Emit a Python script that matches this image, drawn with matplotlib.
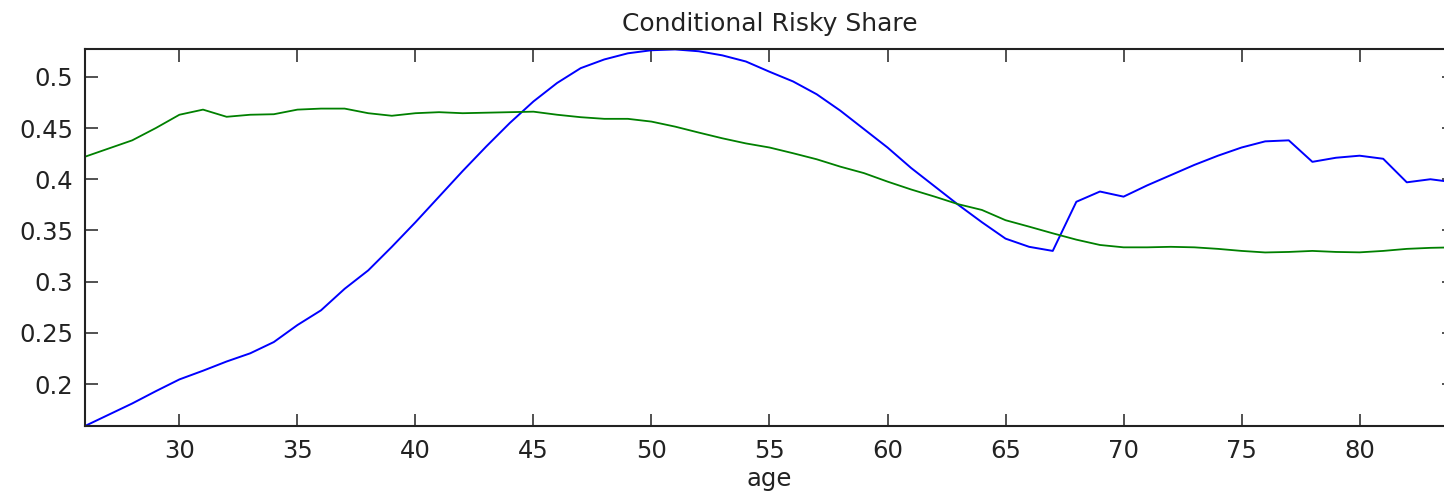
import matplotlib
matplotlib.use("Agg")
from matplotlib import pyplot as plt

# edades (eje x)
edades = list(range(26, 85))

# participacion riesgosa condicional - serie azul
azul = [0.159, 0.170, 0.181, 0.193, 0.2045, 0.213, 0.222, 0.230, 0.241, 0.2576,
        0.272, 0.293, 0.311, 0.334, 0.358, 0.383, 0.408, 0.432, 0.455, 0.476,
        0.494, 0.5085, 0.517, 0.523, 0.526, 0.5268, 0.525, 0.521, 0.515, 0.505,
        0.4955, 0.483, 0.467, 0.449, 0.431, 0.411, 0.393, 0.375, 0.358, 0.342,
        0.334, 0.330, 0.378, 0.388, 0.383, 0.394, 0.404, 0.414, 0.423, 0.431,
        0.437, 0.438, 0.417, 0.421, 0.423, 0.420, 0.397, 0.400, 0.397]

# serie verde
verde = [0.422, 0.430, 0.438, 0.450, 0.463, 0.468, 0.461, 0.463, 0.4635, 0.468,
         0.469, 0.469, 0.4645, 0.462, 0.4645, 0.4655, 0.4645, 0.465, 0.4655, 0.466,
         0.463, 0.4606, 0.459, 0.459, 0.4563, 0.4514, 0.4456, 0.440, 0.435, 0.431,
         0.4254, 0.4195, 0.4123, 0.406, 0.3977, 0.390, 0.383, 0.3756, 0.370, 0.360,
         0.3537, 0.3472, 0.341, 0.3358, 0.3335, 0.3335, 0.334, 0.3335, 0.332, 0.330,
         0.3285, 0.329, 0.330, 0.329, 0.3286, 0.330, 0.332, 0.333, 0.3335]

plt.rcParams["font.family"] = ["DejaVu Sans"]

fig = plt.figure(figsize=(14.44, 4.94), dpi=100)
ax = fig.add_axes([85/1444, 1 - 426/494, 1369/1444, (426 - 48.7)/494])

ax.plot(edades, azul, color="#0000ff", linewidth=1.4)
ax.plot(edades, verde, color="#008000", linewidth=1.3)

ax.set_xlim(26, 84)
ax.set_ylim(0.159, 0.5275)
ax.set_xticks([30, 35, 40, 45, 50, 55, 60, 65, 70, 75, 80])
ax.set_yticks([0.2, 0.25, 0.3, 0.35, 0.4, 0.45, 0.5])
ax.set_yticklabels(["0.2", "0.25", "0.3", "0.35", "0.4", "0.45", "0.5"])

ax.tick_params(direction="in", length=9, width=1.1, top=True, right=True,
               labelsize=17.5, colors="#222222")
ax.tick_params(axis="x", pad=9)
ax.tick_params(axis="y", pad=8.5)
for s in ax.spines.values():
    s.set_linewidth(1.5)
    s.set_color("#222222")

ax.set_title("Conditional Risky Share", fontsize=18, color="#222222", pad=13)
ax.set_xlabel("age", fontsize=17.5, color="#222222", labelpad=3)

plt.savefig("out.png", dpi=100)
